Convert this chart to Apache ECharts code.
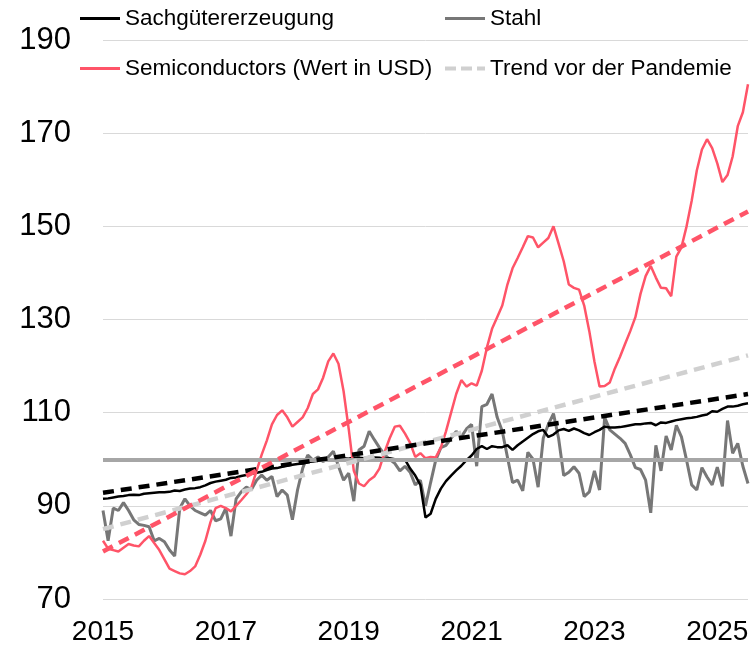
<!DOCTYPE html>
<html>
<head>
<meta charset="utf-8">
<script src="https://cdn.jsdelivr.net/npm/echarts@6/dist/echarts.min.js"></script>
<style>
  html, body { margin: 0; padding: 0; background: #fff; }
  #main { width: 755px; height: 646px; }
</style>
</head>
<body>
<div id="main"></div>
<script>
// Monatsindizes, Jan 2015 bis Jul 2025
var years = [2015, 2016, 2017, 2018, 2019, 2020, 2021, 2022, 2023, 2024, 2025];
var lastMonth2025 = 7;

var sachgueter = [
  91.5, 91.6, 91.8, 92.0, 92.1, 92.3, 92.4, 92.3, 92.6, 92.7, 92.8, 92.9,
  92.9, 93.0, 93.3, 93.2, 93.5, 93.7, 93.8, 94.0, 94.4, 94.9, 95.2, 95.4,
  95.6, 96.0, 96.1, 96.4, 96.6, 96.9, 97.1, 97.3, 97.7, 98.0, 98.1, 98.4,
  98.6, 98.8, 99.0, 99.1, 99.4, 99.5, 99.7, 99.8, 99.8, 100.0, 100.1, 100.2,
  100.1, 100.4, 100.3, 100.2, 100.5, 100.4, 100.3, 100.1, 100.2, 100.0, 99.8, 99.9,
  98.0, 96.5, 94.5, 87.5, 88.3, 91.5, 93.7, 95.3, 96.5, 97.6, 98.6, 99.8,
  100.8, 102.2, 102.8, 102.2, 102.8, 102.6, 102.6, 103.0, 102.0, 103.0, 103.8, 104.6,
  105.4, 106.0, 106.3, 104.8, 105.3, 106.2, 106.5, 106.1, 106.6, 106.2, 105.6, 105.2,
  105.8, 106.3, 107.0, 106.8, 106.8, 106.9, 107.1, 107.3, 107.5, 107.5, 107.7, 107.8,
  107.3, 107.9, 107.8, 108.1, 108.4, 108.6, 108.8, 108.9, 109.1, 109.4, 109.6, 110.3,
  110.2, 110.8, 111.3, 111.3, 111.5, 111.8, 112.0
];

var stahl = [
  89.0, 82.5, 89.5, 89.0, 90.7, 89.0, 87.0, 86.0, 85.8, 85.5, 82.5, 83.0,
  82.3, 80.5, 79.2, 89.5, 91.5, 90.0, 89.0, 88.5, 88.0, 89.0, 86.8, 87.2,
  89.5, 83.5, 91.5, 93.0, 94.0, 93.5, 95.5, 96.6, 95.5, 96.3, 92.0, 93.4,
  92.3, 87.0, 93.4, 98.0, 100.9, 99.8, 100.5, 99.5, 100.5, 101.7, 98.5, 95.5,
  97.0, 91.0, 102.0, 102.8, 106.0, 104.2, 102.5, 101.0, 100.0, 99.1, 97.5, 98.5,
  97.2, 94.5, 95.5, 90.0, 95.0, 99.8, 102.5, 103.0, 104.5, 106.0, 104.8, 106.5,
  107.5, 98.5, 111.3, 111.8, 114.0, 109.0, 106.0, 100.5, 95.0, 95.5, 93.2, 101.5,
  100.0, 94.0, 104.5, 107.5, 109.8, 104.5, 96.5, 97.2, 98.4, 97.0, 92.0, 93.0,
  97.5, 93.4, 109.0, 106.3, 105.4, 104.5, 103.4, 101.0, 98.2, 97.8, 95.5, 88.5,
  103.0, 97.5, 105.0, 102.0, 107.3, 104.8, 99.8, 94.5, 93.4, 98.2, 96.2, 94.5,
  98.3, 94.2, 108.3, 101.3, 103.4, 98.5, 94.8
];

var semiconductors = [
  82.5, 80.8, 80.5, 80.2, 81.0, 81.8, 81.5, 81.3, 82.5, 83.5, 82.0, 80.5,
  78.5, 76.5, 76.0, 75.5, 75.3, 76.0, 77.0, 79.5, 82.5, 86.5, 89.5, 90.0,
  89.5, 88.8, 90.0, 91.2, 92.5, 94.0, 97.5, 101.0, 104.0, 107.5, 109.5, 110.5,
  109.0, 107.0, 108.0, 109.0, 111.0, 114.0, 115.0, 117.5, 121.0, 122.7, 120.5, 114.6,
  106.5, 97.5, 94.8, 94.2, 95.5, 96.3, 98.0, 101.5, 104.5, 107.0, 107.2, 105.5,
  103.5, 100.5, 101.3, 100.2, 100.5, 100.4, 102.5, 106.0, 110.0, 114.0, 117.0, 115.6,
  116.3, 115.8, 119.0, 124.0, 128.0, 130.5, 133.0, 137.5, 141.0, 143.2, 145.5, 147.9,
  147.6, 145.5, 146.5, 147.5, 150.0, 146.3, 142.5, 137.5, 136.8, 136.4, 133.0, 127.5,
  121.0, 115.6, 115.7, 116.5, 119.5, 122.0, 124.8, 127.5, 130.5, 135.5, 139.3, 141.5,
  139.0, 136.8, 136.7, 135.0, 143.5, 145.5, 150.0, 155.5, 162.0, 166.5, 168.7, 166.8,
  163.5, 159.5, 161.0, 165.0, 171.5, 174.5, 180.5
];

// Trendlinien: Wert am ersten und letzten Monat
var trendSachgueter = [92.8, 114.0];
var trendSemis = [80.2, 153.2];
var trendStahl = [85.0, 122.3];

var categories = [];
years.forEach(function (y) {
  var n = (y === 2025) ? lastMonth2025 : 12;
  for (var m = 1; m <= n; m++) {
    categories.push(y + '-' + (m < 10 ? '0' + m : m));
  }
});
var last = categories.length - 1;

function trendLine(t) {
  return [[0, t[0]], [last, t[1]]];
}

var font = 'Liberation Sans, Arial, sans-serif';
var solidIcon = 'path://M0,0h40v3h-40z';
var dashIcon = 'path://M0,0h11v4h-11z M16,0h11v4h-11z M32,0h8v4h-8z';

var chart = echarts.init(document.getElementById('main'));

function legendAt(name, left, top, icon, h) {
  return {
    data: [{ name: name, icon: icon }],
    left: left,
    top: top,
    padding: 0,
    itemWidth: 40,
    itemHeight: h,
    selectedMode: false,
    textStyle: { fontFamily: font, fontSize: 22.5, color: '#000' }
  };
}

chart.setOption({
  animation: false,
  backgroundColor: '#fff',
  legend: [
    legendAt('Sachgütererzeugung', 80, 7, solidIcon, 3),
    legendAt('Stahl', 445, 7, solidIcon, 3),
    legendAt('Semiconductors (Wert in USD)', 80, 57, solidIcon, 3),
    legendAt('Trend vor der Pandemie', 445, 57, dashIcon, 4)
  ],
  grid: { left: 103, right: 7, top: 40, bottom: 47 },
  xAxis: {
    type: 'category',
    data: categories,
    boundaryGap: false,
    axisLine: { show: false },
    axisTick: { show: false },
    splitLine: { show: false },
    axisLabel: {
      interval: function (idx) { return idx % 24 === 0; },
      formatter: function (v) { return v.slice(0, 4); },
      fontFamily: font,
      fontSize: 28,
      color: '#000',
      margin: 19
    }
  },
  yAxis: {
    type: 'value',
    min: 70,
    max: 190,
    interval: 20,
    axisLine: { show: false },
    axisTick: { show: false },
    splitLine: { lineStyle: { color: '#d9d9d9', width: 1 } },
    axisLabel: { fontFamily: font, fontSize: 31, color: '#000', margin: 32 }
  },
  series: [
    {
      name: 'Basis',
      type: 'line',
      data: [],
      z: 1,
      silent: true,
      markLine: {
        silent: true,
        symbol: 'none',
        label: { show: false },
        lineStyle: { color: '#a6a6a6', width: 4, type: 'solid' },
        data: [{ yAxis: 100 }]
      }
    },
    {
      name: 'Stahl',
      type: 'line',
      data: stahl,
      symbol: 'none',
      z: 3,
      lineStyle: { color: '#777777', width: 3 },
      itemStyle: { color: '#777777' }
    },
    {
      name: 'Sachgütererzeugung',
      type: 'line',
      data: sachgueter,
      symbol: 'none',
      z: 4,
      lineStyle: { color: '#000', width: 2.5 },
      itemStyle: { color: '#000' }
    },
    {
      name: 'Semiconductors (Wert in USD)',
      type: 'line',
      data: semiconductors,
      symbol: 'none',
      z: 4,
      lineStyle: { color: '#ff5468', width: 2.5 },
      itemStyle: { color: '#ff5468' }
    },
    {
      name: 'Trend vor der Pandemie',
      type: 'line',
      data: trendLine(trendStahl),
      symbol: 'none',
      z: 5,
      lineStyle: { color: '#d0d0d0', width: 4.5, type: [11, 7] },
      itemStyle: { color: '#d0d0d0' }
    },
    {
      name: 'Trend Sachgüter',
      type: 'line',
      data: trendLine(trendSachgueter),
      symbol: 'none',
      z: 5,
      lineStyle: { color: '#000', width: 4.5, type: [11, 7] },
      itemStyle: { color: '#000' }
    },
    {
      name: 'Trend Semis',
      type: 'line',
      data: trendLine(trendSemis),
      symbol: 'none',
      z: 5,
      lineStyle: { color: '#ff5468', width: 4.5, type: [11, 7] },
      itemStyle: { color: '#ff5468' }
    }
  ]
});
</script>
</body>
</html>
